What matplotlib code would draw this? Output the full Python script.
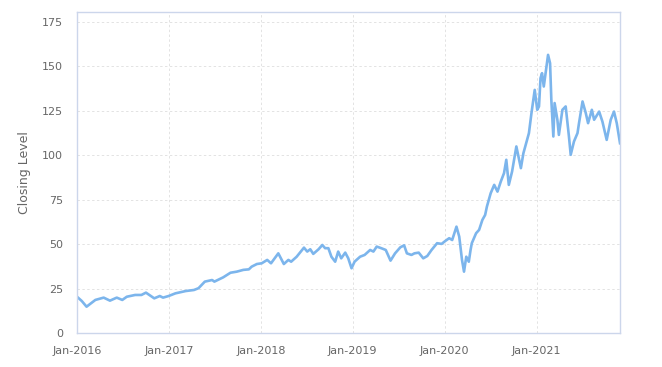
import matplotlib
matplotlib.use('Agg')
import matplotlib.pyplot as plt
import matplotlib.dates as mdates
import pandas as pd

# Closing level
dates = [
    '2016-01-01', '2016-01-20', '2016-02-08', '2016-03-14', '2016-04-16', '2016-05-11',
    '2016-06-07', '2016-06-29', '2016-07-17', '2016-08-19', '2016-09-13', '2016-10-01',
    '2016-11-03', '2016-11-25', '2016-12-08', '2016-12-30',
    '2017-01-26', '2017-03-08', '2017-04-10', '2017-04-28', '2017-05-23', '2017-06-21',
    '2017-06-30', '2017-08-04', '2017-09-02', '2017-09-27', '2017-10-23', '2017-11-14',
    '2017-11-25', '2017-12-16',
    '2018-01-04', '2018-01-26', '2018-02-10', '2018-03-11', '2018-04-02', '2018-04-20',
    '2018-05-01', '2018-05-23', '2018-06-21', '2018-07-04', '2018-07-16', '2018-07-28',
    '2018-08-18', '2018-09-02', '2018-09-13', '2018-09-26', '2018-10-08', '2018-10-23',
    '2018-11-04', '2018-11-16', '2018-12-02', '2018-12-14', '2018-12-27',
    '2019-01-08', '2019-01-30', '2019-02-17', '2019-03-11', '2019-03-24', '2019-04-06',
    '2019-04-24', '2019-05-12', '2019-05-31', '2019-06-18', '2019-07-09', '2019-07-24',
    '2019-08-04', '2019-08-22', '2019-09-03', '2019-09-20', '2019-10-08', '2019-10-24',
    '2019-11-10', '2019-12-02', '2019-12-20',
    '2020-01-04', '2020-01-19', '2020-01-31', '2020-02-17', '2020-02-28', '2020-03-10',
    '2020-03-18', '2020-03-27', '2020-04-06', '2020-04-13', '2020-04-18', '2020-05-05',
    '2020-05-17', '2020-05-30', '2020-06-10', '2020-06-17', '2020-07-02', '2020-07-16',
    '2020-07-29', '2020-08-11', '2020-08-24', '2020-09-02', '2020-09-12', '2020-09-25',
    '2020-10-12', '2020-10-30', '2020-11-09', '2020-11-18', '2020-12-01', '2020-12-11',
    '2020-12-24',
    '2021-01-03', '2021-01-10', '2021-01-16', '2021-01-22', '2021-01-29', '2021-02-15',
    '2021-02-23', '2021-02-28', '2021-03-08', '2021-03-13', '2021-03-24', '2021-03-30',
    '2021-04-13', '2021-04-26', '2021-05-09', '2021-05-16', '2021-05-29', '2021-06-12',
    '2021-06-18', '2021-07-02', '2021-07-15', '2021-07-24', '2021-08-08', '2021-08-17',
    '2021-09-06', '2021-09-19', '2021-10-06', '2021-10-22', '2021-11-04', '2021-11-15',
    '2021-11-28',
]
closing = [
    20.4, 18.0, 14.8, 18.6, 19.9, 18.2,
    19.9, 18.6, 20.4, 21.4, 21.4, 22.7,
    19.5, 20.8, 19.9, 20.8,
    22.3, 23.6, 24.2, 25.2, 28.9, 29.8,
    28.9, 31.3, 33.9, 34.5, 35.5, 35.8,
    37.3, 38.8,
    39.2, 41.1, 39.2, 44.8, 38.8, 41.1,
    40.1, 42.9, 48.0, 45.8, 47.1, 44.5,
    47.1, 49.5, 47.7, 47.7, 42.9, 40.1,
    45.8, 42.0, 45.2, 42.0, 36.4,
    40.1, 42.9, 43.9, 46.7, 45.8, 48.6,
    47.7, 46.7, 40.7, 44.8, 48.2, 49.3,
    44.8, 43.9, 44.8, 45.2, 42.0, 43.3,
    46.7, 50.5, 50.1,
    51.8, 53.3, 52.3, 59.8, 54.2, 41.1,
    34.5, 42.9, 40.1, 46.7, 50.5, 56.1,
    58.0, 63.6, 66.4, 71.1, 78.6, 83.3,
    79.5, 85.1, 89.9, 97.4, 83.3, 90.8,
    104.9, 92.7, 101.1, 105.8, 112.4, 123.6,
    136.7,
    125.5, 127.4, 143.3, 146.1, 138.6, 156.4,
    151.7, 131.1, 110.5, 129.3, 119.9, 111.4,
    125.5, 127.4, 110.5, 100.2, 107.7, 112.4,
    118.0, 130.2, 123.6, 118.0, 125.5, 119.9,
    124.5, 118.9, 108.6, 119.9, 124.5, 118.0,
    106.7,
]
y_ticks = [0, 25, 50, 75, 100, 125, 150, 175]

x = pd.to_datetime(dates)

fig = plt.figure(figsize=(6.62, 3.67), dpi=100)
ax = fig.add_axes([0.1163, 0.0926, 0.8203, 0.8747])

ax.plot(x, closing, color='#7cb5ec', linewidth=1.9, solid_joinstyle='round')

# Axes limits and ticks.
ax.set_xlim(x[0], x[-1])
ax.set_ylim(0, 180.5)
ax.set_yticks(y_ticks)
ax.xaxis.set_major_locator(mdates.YearLocator())
ax.xaxis.set_major_formatter(mdates.DateFormatter('%b-%Y'))

ax.grid(True, color='#e3e3e3', linestyle=(0, (2.5, 2.5)), linewidth=0.7)
ax.set_axisbelow(True)
for side in ['top', 'right', 'left', 'bottom']:
    ax.spines[side].set_color('#ccd6eb')
    ax.spines[side].set_linewidth(1)

ax.tick_params(axis='both', length=0, labelsize=8, labelcolor='#666666')
ax.tick_params(axis='x', pad=9)
ax.tick_params(axis='y', pad=10)
ax.set_ylabel('Closing Level', fontsize=9, color='#666666', labelpad=8)

fig.savefig('out.png', dpi=100)
